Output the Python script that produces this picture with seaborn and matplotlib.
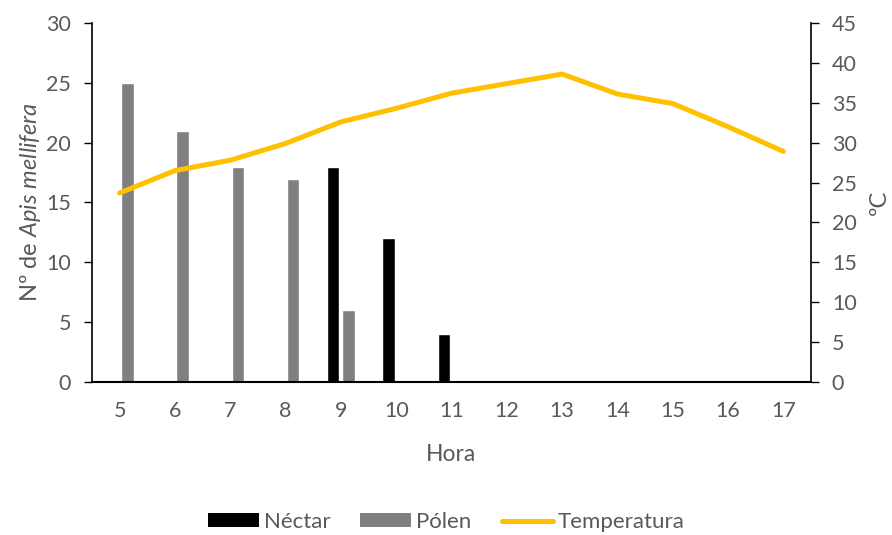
import matplotlib
matplotlib.use("Agg")
import matplotlib.pyplot as plt
import seaborn as sns
import pandas as pd
from matplotlib.patches import Patch
from matplotlib.lines import Line2D

# Hourly counts of Apis mellifera by resource collected, and air temperature
horas = [5, 6, 7, 8, 9, 10, 11, 12, 13, 14, 15, 16, 17]
nectar = [0, 0, 0, 0, 18, 12, 4, 0, 0, 0, 0, 0, 0]
polen = [25, 21, 18, 17, 6, 0, 0, 0, 0, 0, 0, 0, 0]
temperatura = [23.7, 26.5, 27.8, 29.9, 32.6, 34.3, 36.2, 37.4, 38.6, 36.1, 34.9, 32.0, 28.9]

sns.set_theme(style="white")
plt.rcParams["font.family"] = ["Lato", "DejaVu Sans"]
plt.rcParams["mathtext.fontset"] = "custom"
plt.rcParams["mathtext.rm"] = "Lato"
plt.rcParams["mathtext.it"] = "Lato:italic"

txt = "#595959"
c_nectar = "#000000"
c_polen = "#808080"
c_temp = "#FFC000"

df = pd.DataFrame({
    "Hora": horas * 2,
    "valor": nectar + polen,
    "tipo": ["Néctar"] * len(horas) + ["Pólen"] * len(horas),
})

fig = plt.figure(figsize=(8.92, 5.35), dpi=100)
ax = fig.add_axes([0.1031, 0.286, 0.8061, 0.671])

sns.barplot(data=df, x="Hora", y="valor", hue="tipo",
            hue_order=["Néctar", "Pólen"],
            palette={"Néctar": c_nectar, "Pólen": c_polen},
            width=0.56, gap=0.2, saturation=1, errorbar=None,
            legend=False, ax=ax)

ax.set_xlim(-0.5, len(horas) - 0.5)
ax.set_ylim(0, 30)
ax.set_yticks(range(0, 31, 5))
ax.set_xlabel("Hora", color=txt, fontsize=16.5, labelpad=16)
ax.set_ylabel(r"Nº de $\it{Apis\ mellifera}$", color=txt, fontsize=17, labelpad=2)
ax.tick_params(axis="y", left=True, length=6, width=1, color="#000000",
               labelcolor=txt, labelsize=15.5, pad=9)
ax.tick_params(axis="x", bottom=False, length=0, labelcolor=txt,
               labelsize=15.5, pad=14)

ax2 = ax.twinx()
sns.lineplot(x=list(range(len(horas))), y=temperatura, color=c_temp,
             linewidth=3.6, ax=ax2, legend=False)
ax2.set_ylim(0, 45)
ax2.set_yticks(range(0, 46, 5))
ax2.set_ylabel("ºC", color=txt, fontsize=17, rotation=90, labelpad=9)
ax2.tick_params(axis="y", right=True, length=6, width=1, color="#000000",
                labelcolor=txt, labelsize=15.5, pad=9)

for a in (ax, ax2):
    a.spines["top"].set_visible(False)
    for s in ("left", "right", "bottom"):
        a.spines[s].set_color("#000000")
        a.spines[s].set_linewidth(1.2)
ax.spines["right"].set_visible(False)
ax2.spines["left"].set_visible(False)
ax2.spines["bottom"].set_visible(False)
ax.spines["bottom"].set_linewidth(1.5)

handles = [
    Patch(facecolor=c_nectar, edgecolor="none", label="Néctar"),
    Patch(facecolor=c_polen, edgecolor="none", label="Pólen"),
    Line2D([0], [0], color=c_temp, linewidth=3.6, label="Temperatura"),
]
leg = fig.legend(handles=handles, loc="center", bbox_to_anchor=(0.5, 0.024),
                 ncol=3, frameon=False, fontsize=16, handlelength=2.3,
                 handleheight=0.6, handletextpad=0.22, columnspacing=1.35)
for t in leg.get_texts():
    t.set_color(txt)

fig.savefig("out.png", dpi=100)
